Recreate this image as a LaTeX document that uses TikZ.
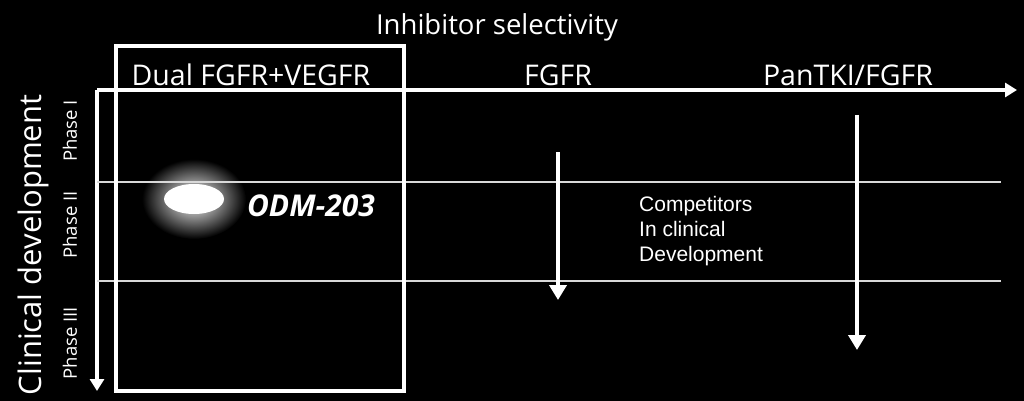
\documentclass[tikz,border=0pt]{standalone}
\usepackage{fontspec}
\setmainfont{Open Sans}
\newfontfamily\arialfont{Liberation Sans}
\usetikzlibrary{arrows.meta,positioning}
\tikzset{
  axis/.style={white,line width=3.2pt,-{Triangle[width=14pt,length=12pt]}},
  devarrow/.style={white,line width=4pt,-{Triangle[width=17pt,length=15pt]}},
  phaseline/.style={white!85!black,line width=1.6pt},
  heading/.style={white,font=\fontsize{27.5}{32}\selectfont},
  classlabel/.style={white,font=\fontsize{28.5}{32}\selectfont},
  phaselabel/.style={white,rotate=90,font=\fontsize{18.5}{22}\selectfont},
}
\begin{document}
\begin{tikzpicture}[x=1pt,y=-1pt]
    \fill[black] (0,0) rectangle (1024,401);
    \useasboundingbox (0,0) rectangle (1024,401);
    %% titles
    \node[heading] (title) at (497,27) {Inhibitor selectivity};
    \node[white,rotate=90,font=\fontsize{31}{36}\selectfont] (clinical) at (33,245) {Clinical development};
    %% selectivity classes
    \node[classlabel] (dual) at (251,75) {Dual FGFR+VEGFR};
    \node[classlabel] (fgfr) at (558,75) {FGFR};
    \node[classlabel] (pantki) at (848,75) {PanTKI/FGFR};
    %% glow behind ODM-203
    \shade[inner color=white,outer color=black] (194,199) ellipse (52 and 40);
    %% axes
    \coordinate (origin) at (97,90);
    \coordinate (xend) at (1017,90);
    \coordinate (yend) at (97,391);
    \draw[axis] (origin) -- (xend);
    \draw[axis] (origin) -- (yend);
    %% phases
    \coordinate (p1) at (97,182);
    \coordinate (p2) at (97,281);
    \draw[phaseline] (p1) -- ++(904,0);
    \draw[phaseline] (p2) -- ++(904,0);
    \node[phaselabel] (phase1) at (70,131) {Phase I};
    \node[phaselabel] (phase2) at (70,225) {Phase II};
    \node[phaselabel] (phase3) at (70,343) {Phase III};
    %% dual box
    \draw[white,line width=4.2pt] (116,46) rectangle (404,391);
    %% ODM-203
    \fill[white] (194,199) ellipse (30 and 15);
    \node[white,font=\fontsize{30}{34}\selectfont\bfseries\itshape] (odm) at (311,206) {ODM-203};
    %% competitors
    \coordinate (fgfrtop) at (558,152);
    \coordinate (fgfrbot) at (558,300);
    \coordinate (pantop) at (857,115);
    \coordinate (panbot) at (857,350);
    \draw[devarrow] (fgfrtop) -- (fgfrbot);
    \draw[devarrow] (pantop) -- (panbot);
    \node[white,anchor=north west,align=left,inner sep=0pt,
          font=\arialfont\fontsize{21}{25}\selectfont] (comp) at (639,196)
          {Competitors\\In clinical\\Development};
\end{tikzpicture}
\end{document}
